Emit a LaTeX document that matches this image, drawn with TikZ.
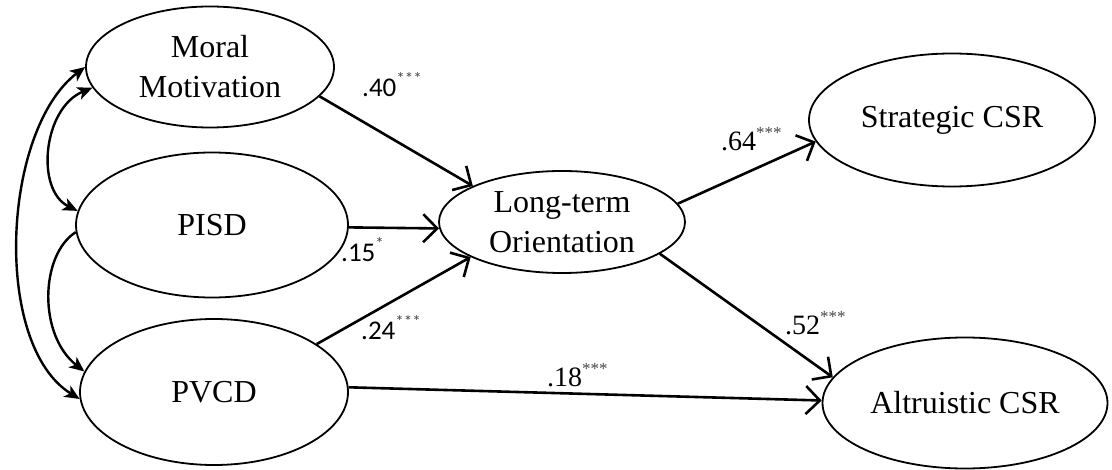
\documentclass[tikz,border=0pt]{standalone}
\usepackage{fontspec}
\setmainfont{Liberation Serif}
\newfontfamily\calib{Carlito}
\usetikzlibrary{arrows.meta,shapes.geometric}
\newcommand\sigstars[1]{\raisebox{12.5pt}{\fontsize{17}{17}\selectfont\color{black!72}#1}}
\begin{document}
\begin{tikzpicture}[x=1pt,y=-1pt,
  lat/.style={draw, ellipse, line width=1.8pt, fill=white, inner sep=0pt,
              font=\fontsize{32}{40}\selectfont, align=center},
  pathar/.style={line width=2.6pt, -{Straight Barb[length=14pt,width=28pt]}},
  covar/.style={line width=2.4pt, {Stealth[length=15pt,width=13pt,inset=4pt]}-{Stealth[length=15pt,width=13pt,inset=4pt]}},
  covone/.style={line width=2.4pt, -{Stealth[length=15pt,width=13pt,inset=4pt]}},
  lbls/.style={inner sep=0pt, anchor=base west, font=\calib\fontsize{27}{30}\selectfont},
  lblt/.style={inner sep=0pt, anchor=base west, font=\fontsize{28}{32}\selectfont}]
\useasboundingbox (0,0) rectangle (1112,470);

\node[lat, minimum width=248pt, minimum height=121pt] (mm) at (210,67) {Moral\\Motivation};
\node[lat, minimum width=272pt, minimum height=145pt] (pisd) at (212,225) {PISD};
\node[lat, minimum width=268pt, minimum height=146pt] (pvcd) at (214,392) {PVCD};
\node[lat, minimum width=246pt, minimum height=102pt] (lto) at (562,222) {Long-term\\Orientation};
\node[lat, minimum width=286pt, minimum height=133pt] (strat) at (952,120) {Strategic CSR};
\node[lat, minimum width=285pt, minimum height=131pt] (altr) at (965,403) {Altruistic CSR};

% structural paths
\draw[pathar] (mm.-15) -- (lto.158);
\draw[pathar] (pisd.-1) -- (lto.183);
\draw[pathar] (pvcd.25) -- (lto.201);
\draw[pathar] (pvcd.2) -- (altr.179);
\draw[pathar] (lto.9) -- (strat.189);
\draw[pathar] (lto.-18) -- (altr.169);

% covariances
\draw[covar] (mm.190) .. controls (43,108) and (35,190) .. (pisd.174);
\draw[covar] (mm.180) .. controls (2,130) and (-8,345) .. (pvcd.183);
\draw[covone] (pisd.183) .. controls (40,255) and (38,335) .. (pvcd.171);

% coefficients
\node[lbls] (l40) at (362,97) {.40\sigstars{***}};
\node[lbls] (l15) at (341,262) {.15\sigstars{*}};
\node[lbls] (l24) at (361,340) {.24\sigstars{***}};
\node[lblt] (l64) at (721,151) {.64\sigstars{***}};
\node[lblt] (l52) at (785,335) {.52\sigstars{***}};
\node[lblt] (l18) at (547,387) {.18\sigstars{***}};
\end{tikzpicture}
\end{document}
